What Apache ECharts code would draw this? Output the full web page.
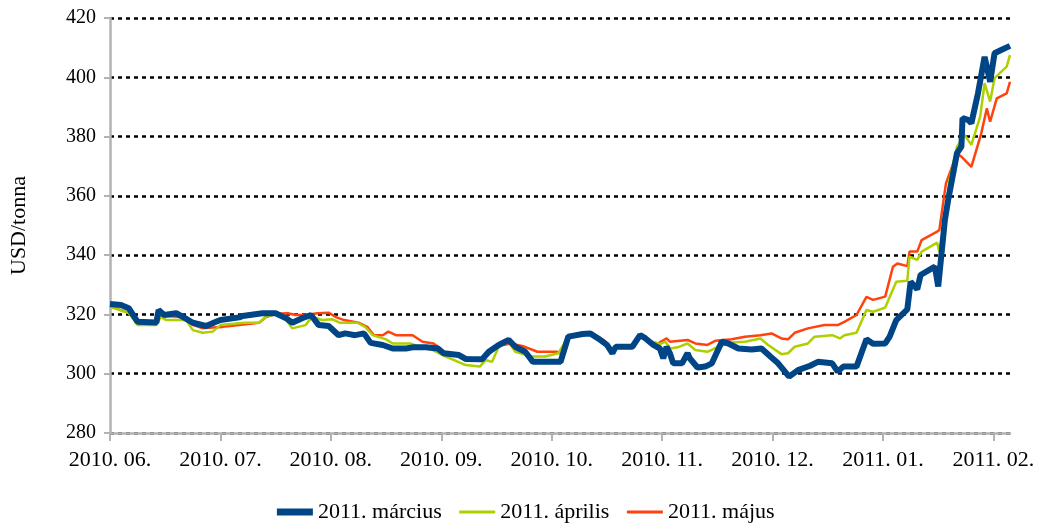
<!DOCTYPE html>
<html>
<head>
<meta charset="utf-8">
<script src="https://cdn.jsdelivr.net/npm/echarts@6/dist/echarts.min.js"></script>
<style>
html, body { margin: 0; padding: 0; background: #fff; }
#main { width: 1048px; height: 531px; }
</style>
</head>
<body>
<div id="main"></div>
<script>
// havi tengelyfeliratok (x = hónapok 2010.06. óta)
const monthLabels = ['2010. 06.', '2010. 07.', '2010. 08.', '2010. 09.', '2010. 10.', '2010. 11.', '2010. 12.', '2011. 01.', '2011. 02.'];
const monthTicks = [0, 1, 2, 3, 4, 5, 6, 7, 8];
const seriesNames = ['2011. március', '2011. április', '2011. május'];

// 2011. március
const marciusX = [0.00, 0.10, 0.17, 0.25, 0.42, 0.44, 0.49, 0.60, 0.66, 0.75, 0.87, 0.96, 1.00, 1.17, 1.20, 1.38, 1.50, 1.60, 1.65, 1.74, 1.82, 1.89, 1.98, 2.07, 2.13, 2.22, 2.30, 2.36, 2.47, 2.56, 2.68, 2.74, 2.86, 2.97, 3.02, 3.16, 3.22, 3.37, 3.43, 3.52, 3.61, 3.67, 3.76, 3.83, 3.97, 4.08, 4.15, 4.28, 4.35, 4.42, 4.50, 4.55, 4.58, 4.73, 4.80, 4.85, 4.92, 4.98, 5.01, 5.04, 5.07, 5.10, 5.18, 5.23, 5.25, 5.32, 5.39, 5.45, 5.54, 5.60, 5.69, 5.81, 5.90, 5.98, 6.05, 6.15, 6.23, 6.34, 6.41, 6.54, 6.59, 6.64, 6.76, 6.85, 6.91, 7.02, 7.06, 7.12, 7.22, 7.25, 7.31, 7.34, 7.47, 7.50, 7.56, 7.59, 7.67, 7.71, 7.72, 7.77, 7.80, 7.86, 7.92, 7.97, 8.01, 8.07, 8.15];
const marciusY = [323.5, 323.2, 322.1, 317.5, 317.3, 321.5, 319.8, 320.4, 319.2, 317.2, 316.1, 317.5, 318.1, 319.0, 319.5, 320.4, 320.4, 318.6, 317.2, 318.7, 319.8, 316.4, 316.1, 313.0, 313.6, 313.0, 313.6, 310.4, 309.7, 308.5, 308.5, 308.9, 308.9, 308.5, 306.9, 306.3, 305.0, 304.9, 307.4, 309.7, 311.4, 309.1, 307.4, 304.0, 304.0, 304.0, 312.5, 313.4, 313.6, 311.9, 309.7, 306.9, 309.1, 309.1, 313.0, 311.9, 309.7, 308.5, 305.2, 309.1, 306.9, 303.5, 303.5, 306.9, 305.2, 302.1, 302.4, 303.5, 310.8, 310.2, 308.5, 308.2, 308.5, 305.8, 303.5, 299.0, 301.2, 302.7, 304.0, 303.5, 300.7, 302.4, 302.4, 311.6, 310.1, 310.2, 312.5, 318.1, 321.7, 331.0, 328.5, 333.3, 336.1, 329.4, 351.8, 358.6, 374.4, 376.6, 386.2, 385.6, 384.5, 394.6, 406.9, 398.5, 408.1, 409.2, 410.6];

// 2011. április
const aprilisX = [0.00, 0.17, 0.25, 0.42, 0.46, 0.51, 0.69, 0.75, 0.84, 0.93, 1.00, 1.17, 1.23, 1.35, 1.41, 1.50, 1.59, 1.65, 1.77, 1.83, 1.92, 2.01, 2.08, 2.24, 2.31, 2.38, 2.50, 2.56, 2.72, 2.80, 2.92, 3.04, 3.22, 3.35, 3.40, 3.46, 3.52, 3.61, 3.67, 3.82, 3.94, 4.06, 4.15, 4.28, 4.35, 4.42, 4.50, 4.55, 4.58, 4.73, 4.80, 4.85, 4.98, 5.03, 5.07, 5.14, 5.23, 5.30, 5.41, 5.51, 5.63, 5.75, 5.89, 5.96, 6.08, 6.14, 6.20, 6.32, 6.38, 6.54, 6.61, 6.65, 6.76, 6.85, 6.91, 7.02, 7.12, 7.22, 7.24, 7.31, 7.35, 7.49, 7.51, 7.56, 7.60, 7.67, 7.74, 7.80, 7.88, 7.92, 7.97, 8.01, 8.12, 8.15];
const aprilisY = [322.6, 320.5, 316.4, 316.4, 319.2, 318.1, 318.1, 314.7, 313.8, 314.2, 316.4, 317.0, 317.2, 317.2, 319.2, 320.1, 318.5, 315.3, 316.4, 319.2, 318.1, 318.4, 317.2, 317.2, 315.8, 313.0, 311.6, 310.2, 310.2, 309.1, 308.0, 305.8, 302.9, 302.4, 304.6, 304.0, 309.1, 310.8, 307.4, 305.8, 305.8, 306.9, 312.5, 313.4, 313.6, 311.9, 309.7, 306.9, 309.1, 309.1, 313.0, 311.4, 310.0, 310.8, 308.5, 308.9, 310.2, 308.0, 307.4, 309.1, 310.5, 310.8, 311.9, 309.7, 306.6, 306.9, 309.1, 310.2, 312.5, 313.0, 311.9, 313.0, 313.8, 321.5, 320.9, 322.3, 331.0, 331.4, 339.5, 338.4, 341.2, 344.2, 341.2, 352.0, 365.0, 376.6, 380.5, 377.2, 386.7, 398.0, 391.8, 399.7, 403.6, 407.5];

// 2011. május
const majusX = [0.00, 0.17, 0.25, 0.42, 0.44, 0.51, 0.69, 0.75, 0.84, 0.93, 1.02, 1.17, 1.35, 1.41, 1.50, 1.61, 1.68, 1.77, 1.88, 1.98, 2.04, 2.12, 2.25, 2.33, 2.39, 2.47, 2.52, 2.59, 2.74, 2.83, 2.93, 2.97, 3.04, 3.22, 3.35, 3.42, 3.52, 3.63, 3.74, 3.87, 4.05, 4.10, 4.15, 4.28, 4.35, 4.42, 4.48, 4.55, 4.58, 4.73, 4.80, 4.85, 4.96, 5.04, 5.07, 5.23, 5.30, 5.41, 5.48, 5.63, 5.75, 5.89, 5.99, 6.08, 6.14, 6.20, 6.32, 6.47, 6.59, 6.65, 6.76, 6.85, 6.91, 7.02, 7.09, 7.13, 7.22, 7.24, 7.31, 7.35, 7.49, 7.51, 7.57, 7.67, 7.71, 7.80, 7.89, 7.94, 7.97, 8.03, 8.12, 8.15];
const majusY = [322.8, 320.5, 317.2, 317.0, 320.5, 319.5, 319.0, 316.5, 315.3, 315.6, 315.8, 316.4, 317.2, 319.0, 320.2, 320.4, 319.8, 319.8, 320.4, 320.6, 319.2, 318.1, 317.2, 315.8, 313.0, 313.0, 314.2, 313.0, 313.0, 310.8, 310.2, 309.1, 306.9, 305.5, 305.0, 306.3, 309.4, 310.2, 309.3, 307.4, 307.4, 306.3, 312.5, 313.4, 313.6, 312.5, 311.1, 307.4, 309.1, 309.1, 313.0, 311.4, 310.2, 311.9, 310.8, 311.4, 310.2, 309.7, 311.1, 311.6, 312.5, 313.0, 313.6, 311.9, 311.6, 313.8, 315.3, 316.4, 316.4, 317.5, 319.8, 325.9, 324.9, 326.0, 336.1, 337.2, 336.3, 341.2, 341.2, 345.1, 347.9, 348.5, 364.2, 374.4, 373.2, 369.8, 381.1, 389.5, 385.0, 392.9, 394.6, 398.5];

const pairs = (xs, ys) => xs.map((x, i) => [x, ys[i]]);

const fontName = 'Liberation Serif';
const axisGrey = '#b3b3b3';
const lineWidths = [6, 2.5, 2.5];

var myChart = echarts.init(document.getElementById('main'));

const option = {
    animation: false,
    backgroundColor: '#fff',
    grid: { left: 109, right: 38, top: 18, bottom: 98 },
    legend: {
        // a marcius jelolo vastagabb, mint a masik ketto
        data: seriesNames.map((n, i) => ({ name: n, lineStyle: { width: i === 0 ? 7 : 3 } })),
        bottom: 3,
        left: 'center',
        itemWidth: 36,
        itemHeight: 8,
        itemGap: 16,
        itemStyle: { opacity: 0 }, // csak a vonal latszik, pont nelkul
        textStyle: { fontFamily: fontName, fontSize: 22, color: '#000' }
    },
    xAxis: {
        type: 'value',
        min: 0,
        max: 8.15,
        interval: 1,
        axisLine: { show: true, lineStyle: { color: axisGrey, width: 2.5 } },
        axisTick: { show: true, length: 8, customValues: monthTicks, lineStyle: { color: axisGrey, width: 2 } },
        axisLabel: {
            customValues: monthTicks,
            formatter: (v) => monthLabels[Math.round(v)],
            fontFamily: fontName, fontSize: 22, color: '#000', margin: 16
        },
        splitLine: { show: false }
    },
    yAxis: {
        type: 'value',
        min: 280,
        max: 420,
        interval: 20,
        name: 'USD/tonna',
        nameLocation: 'middle',
        nameGap: 80,
        nameTextStyle: { fontFamily: fontName, fontSize: 22, color: '#000' },
        axisLine: { show: true, lineStyle: { color: axisGrey, width: 2.5 } },
        axisTick: { show: true, length: 6, lineStyle: { color: axisGrey, width: 2 } },
        axisLabel: { fontFamily: fontName, fontSize: 20, color: '#000', margin: 14 },
        splitLine: { show: true, lineStyle: { color: '#000', width: 2.5, type: [4, 4] } }
    },
    series: [
        {
            name: seriesNames[0], type: 'line', showSymbol: false, symbol: 'none', z: 5,
            data: pairs(marciusX, marciusY),
            itemStyle: { color: '#004586' },
            lineStyle: { color: '#004586', width: lineWidths[0] }
        },
        {
            name: seriesNames[1], type: 'line', showSymbol: false, symbol: 'none', z: 4,
            data: pairs(aprilisX, aprilisY),
            itemStyle: { color: '#aecf00' },
            lineStyle: { color: '#aecf00', width: lineWidths[1] }
        },
        {
            name: seriesNames[2], type: 'line', showSymbol: false, symbol: 'none', z: 3,
            data: pairs(majusX, majusY),
            itemStyle: { color: '#ff420e' },
            lineStyle: { color: '#ff420e', width: lineWidths[2] }
        }
    ]
};

myChart.setOption(option);
</script>
</body>
</html>
